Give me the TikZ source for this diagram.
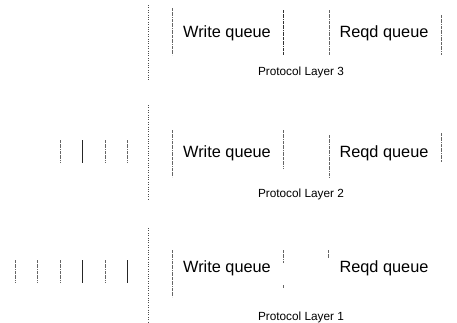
\documentclass[tikz,border=0pt]{standalone}
\usepackage{fontspec}
\setmainfont{Liberation Sans}
\usepackage{tikz}
\usetikzlibrary{positioning}

\begin{document}
\begin{tikzpicture}[x=1pt,y=-1pt,
      qname/.style={font=\fontsize{16.3}{18}\selectfont, inner sep=0pt},
      lname/.style={font=\fontsize{11.8}{14}\selectfont, inner sep=0pt},
      sep/.style={black!70, line width=0.6pt, dash pattern=on 0.8pt off 1.6pt},
      qbar/.style={black!60, line width=0.6pt, dash pattern=on 3pt off 0.8pt on 0.8pt off 0.8pt},
      hard/.style={black!85, line width=0.8pt},
    ]
    \useasboundingbox (0,0) rectangle (457,322);

    % layer 3
    \draw[sep] (148,5) -- (148,80);
    \node[qname] (write3) at (227,33) {Write queue};
    \node[qname] (reqd3) at (384,33) {Reqd queue};
    \node[lname] (proto3) at (301,72) {Protocol Layer 3};
    \draw[qbar] (172,8) -- (172,55);
    \draw[qbar,black!80] (283,10) -- (283,55);
    \draw[qbar] (329,10) -- (329,55);
    \draw[qbar] (441,15) -- (441,55);

    % layer 2
    \draw[sep] (148,105) -- (148,200);
    \node[qname] (write2) at (227,153) {Write queue};
    \node[qname] (reqd2) at (384,153) {Reqd queue};
    \node[lname] (proto2) at (301,194) {Protocol Layer 2};
    \draw[qbar] (172,130) -- (172,177);
    \draw[qbar] (283,130) -- (283,168);
    \draw[qbar] (329,135) -- (329,178);
    \draw[qbar] (441,133) -- (441,162);
    \foreach \x in {60,105,127}
        \draw[qbar] (\x,140) -- (\x,163);
    \draw[hard] (82,140) -- (82,163);

    % layer 1
    \draw[sep] (148,228) -- (148,322);
    \node[qname] (write1) at (227,268) {Write queue};
    \node[qname] (reqd1) at (384,268) {Reqd queue};
    \node[lname] (proto1) at (301,317) {Protocol Layer 1};
    \draw[qbar] (172,250) -- (172,297);
    \draw[qbar] (283,250) -- (283,263);
    \draw[qbar] (283,285) -- (283,288);
    \draw[qbar] (328,250) -- (328,258);
    \foreach \x in {15,37,60,105}
        \draw[qbar] (\x,260) -- (\x,283);
    \draw[hard] (82,260) -- (82,283);
    \draw[hard] (127,260) -- (127,283);
\end{tikzpicture}
\end{document}
